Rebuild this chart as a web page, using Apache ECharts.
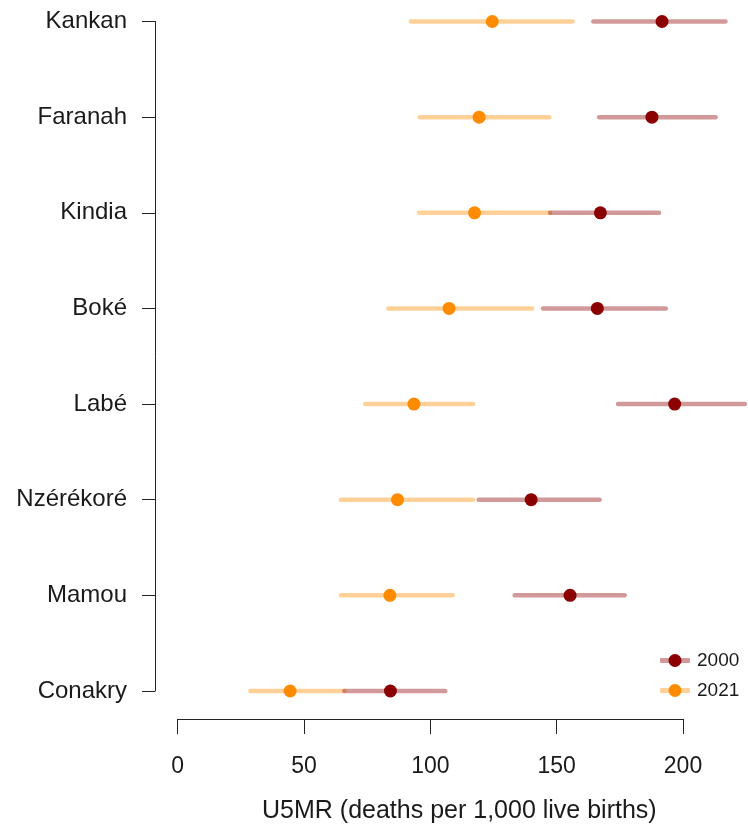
<!DOCTYPE html>
<html>
<head>
<meta charset="utf-8">
<script src="https://cdn.jsdelivr.net/npm/echarts@6/dist/echarts.min.js"></script>
<style>
  html, body { margin: 0; padding: 0; background: #ffffff; }
  #chart { width: 748px; height: 825px; }
</style>
</head>
<body>
<div id="chart"></div>
<script>
// ---- Data (top to bottom) ----
const regions = ['Kankan', 'Faranah', 'Kindia', 'Boké', 'Labé', 'Nzérékoré', 'Mamou', 'Conakry'];
const est2000 = [191.7, 187.7, 167.3, 166.1, 196.7, 139.9, 155.3, 84.2];
const low2000 = [164.5, 166.8, 147.4, 144.6, 174.3, 119.1, 133.4, 66.0];
const high2000 = [216.8, 212.9, 190.5, 193.2, 224.5, 167.0, 176.9, 105.9];
const est2021 = [124.5, 119.3, 117.5, 107.4, 93.5, 87.0, 84.0, 44.5];
const low2021 = [92.3, 95.8, 95.5, 83.4, 74.2, 64.6, 64.6, 28.8];
const high2021 = [156.3, 147.0, 147.4, 140.3, 116.9, 116.9, 108.8, 66.0];
const xTicks = [0, 50, 100, 150, 200];
const xTitle = 'U5MR (deaths per 1,000 live births)';

const FONT = '"Liberation Sans", Arial, Helvetica, sans-serif';
const TXT = '#1a1a1a';

function intervalData(lo, hi) {
  return regions.map((r, i) => [lo[i], hi[i], i]);
}
function pointData(est) {
  return regions.map((r, i) => [est[i], i]);
}
function intervalRenderer(color) {
  return function (params, api) {
    const a = api.coord([api.value(0), api.value(2)]);
    const b = api.coord([api.value(1), api.value(2)]);
    return {
      type: 'line',
      shape: { x1: a[0], y1: a[1], x2: b[0], y2: b[1] },
      style: { stroke: color, lineWidth: 4.5, lineCap: 'round' }
    };
  };
}

const C2000 = '#8B0000', C2000L = 'rgba(139,0,0,0.4)';
const C2021 = '#FF8C00', C2021L = 'rgba(255,140,0,0.4)';

const chart = echarts.init(document.getElementById('chart'), null, { renderer: 'canvas' });

const legendCommon = {
  orient: 'vertical',
  top: 651,
  itemWidth: 30,
  itemGap: 11,
  selectedMode: false,
  textStyle: { fontFamily: FONT, fontSize: 19, lineHeight: 19, color: TXT, padding: [0, 0, 0, 2] },
  padding: 0
};

chart.setOption({
  animation: false,
  backgroundColor: '#ffffff',
  grid: { left: 177.7, right: 65, top: 21.5, bottom: 134, outerBoundsMode: 'none', containLabel: false },
  xAxis: {
    type: 'value',
    min: 0, max: 200, interval: 50,
    offset: 28,
    axisLine: { show: true, onZero: false, lineStyle: { color: '#222', width: 1 } },
    axisTick: { show: true, length: 15, lineStyle: { color: '#222' } },
    axisLabel: { fontFamily: FONT, fontSize: 23, color: TXT, margin: 36,
      formatter: v => xTicks.includes(v) ? String(v) : '' },
    splitLine: { show: false },
    name: xTitle,
    nameLocation: 'middle',
    nameGap: 80,
    nameTextStyle: { fontFamily: FONT, fontSize: 25, color: TXT, padding: [0, 0, 0, 58] }
  },
  yAxis: {
    type: 'category',
    data: regions,
    inverse: true,
    boundaryGap: false,
    offset: 22.7,
    axisLine: { show: true, onZero: false, lineStyle: { color: '#222', width: 1 } },
    axisTick: { show: true, length: 13, alignWithLabel: true, lineStyle: { color: '#222' } },
    axisLabel: { fontFamily: FONT, fontSize: 24, color: TXT, margin: 28 },
    splitLine: { show: false }
  },
  legend: [
    Object.assign({}, legendCommon, {
      left: 660,
      data: ['CI 2000', 'CI 2021'],
      icon: 'roundRect',
      itemHeight: 5,
      formatter: n => n.replace('CI ', ''),
      textStyle: Object.assign({}, legendCommon.textStyle, { color: 'rgba(0,0,0,0)' })
    }),
    Object.assign({}, legendCommon, {
      left: 668.5,
      data: ['2000', '2021'],
      icon: 'circle',
      itemHeight: 13
    })
  ],
  series: [
    {
      name: 'CI 2021', type: 'custom', clip: false,
      itemStyle: { color: C2021L },
      encode: { x: [0, 1], y: 2 },
      data: intervalData(low2021, high2021),
      renderItem: intervalRenderer(C2021L), z: 1
    },
    {
      name: 'CI 2000', type: 'custom', clip: false,
      itemStyle: { color: C2000L },
      encode: { x: [0, 1], y: 2 },
      data: intervalData(low2000, high2000),
      renderItem: intervalRenderer(C2000L), z: 2
    },
    {
      name: '2000', type: 'scatter', clip: false,
      symbol: 'circle', symbolSize: 13,
      itemStyle: { color: C2000, opacity: 1 },
      data: pointData(est2000), z: 3
    },
    {
      name: '2021', type: 'scatter', clip: false,
      symbol: 'circle', symbolSize: 13,
      itemStyle: { color: C2021, opacity: 1 },
      data: pointData(est2021), z: 3
    }
  ]
});
</script>
</body>
</html>
